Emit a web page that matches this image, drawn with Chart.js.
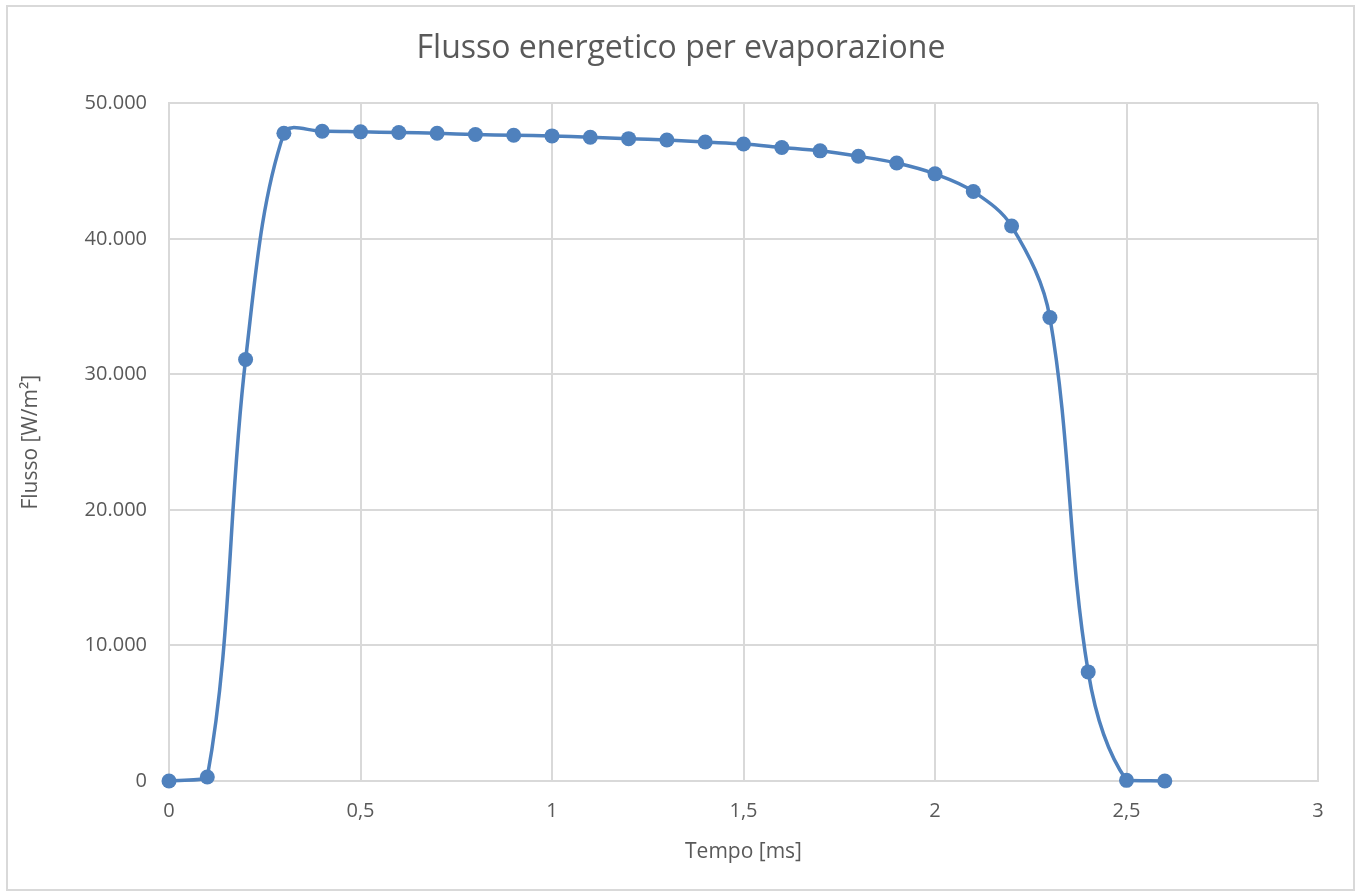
<!DOCTYPE html>
<html>
<head>
<meta charset="utf-8">
<script src="https://cdn.jsdelivr.net/npm/chart.js@4/dist/chart.umd.min.js"></script>
<style>
  html, body { margin: 0; padding: 0; background: #fff; }
  #wrap { position: relative; width: 1362px; height: 894px; }
</style>
</head>
<body>
<div id="wrap"><canvas id="chart"></canvas></div>
<script>
// tempo [ms] e flusso [W/m2]
const tempo  = [0, 0.1, 0.2, 0.3, 0.4, 0.5, 0.6, 0.7, 0.8, 0.9, 1.0, 1.1, 1.2, 1.3,
                1.4, 1.5, 1.6, 1.7, 1.8, 1.9, 2.0, 2.1, 2.2, 2.3, 2.4, 2.5, 2.6];
const flusso = [0, 300, 31100, 47800, 47950, 47900, 47850, 47800, 47700, 47650, 47600, 47500, 47400, 47300,
                47150, 47000, 46750, 46500, 46100, 45600, 44800, 43500, 40950, 34200, 8050, 50, 0];

const titolo   = 'Flusso energetico per evaporazione';
const titoloX  = 'Tempo [ms]';
const titoloY  = 'Flusso [W/m²]';

const blu    = '#4f81bd';
const griglia = '#d9d9d9';
const testo  = '#595959';
const font   = '"Open Sans", "Noto Sans", sans-serif';

const punti = tempo.map((t, i) => ({ x: t, y: flusso[i] }));

// cornice esterna del grafico
const cornice = {
    id: 'cornice',
    beforeDraw(chart) {
        const ctx = chart.ctx;
        ctx.save();
        ctx.strokeStyle = griglia;
        ctx.lineWidth = 2;
        ctx.strokeRect(7, 6, 1347, 884);
        ctx.restore();
    }
};

const migliaia = v => String(Math.round(v)).replace(/\B(?=(\d{3})+(?!\d))/g, '.');

const ctx = document.getElementById('chart').getContext('2d');
const chart = new Chart(ctx, {
    type: 'line',
    data: {
        datasets: [{
            label: titoloY,
            data: punti,
            borderColor: blu,
            backgroundColor: blu,
            borderWidth: 3.5,
            pointRadius: 7.5,
            pointHoverRadius: 7.5,
            pointBorderWidth: 0,
            tension: 0.35,
            clip: false,
            fill: false
        }]
    },
    options: {
        responsive: true,
        maintainAspectRatio: false,
        animation: false,
        layout: { padding: 0 },
        plugins: {
            legend: { display: false },
            tooltip: { enabled: false },
            title: {
                display: true,
                text: titolo,
                color: testo,
                font: { family: font, size: 32, weight: 'normal' },
                padding: { top: 30, bottom: 35 }
            }
        },
        scales: {
            x: {
                type: 'linear',
                min: 0,
                max: 3,
                ticks: {
                    stepSize: 0.5,
                    color: testo,
                    padding: 18,
                    font: { family: font, size: 20 },
                    callback: v => String(v).replace('.', ',')
                },
                grid: { color: griglia, lineWidth: 2, drawTicks: false },
                border: { color: griglia, width: 2 },
                title: {
                    display: true,
                    text: titoloX,
                    color: testo,
                    font: { family: font, size: 21 },
                    padding: { bottom: 29 }
                },
                afterFit(scale) { scale.height = 113; }
            },
            y: {
                min: 0,
                max: 50000,
                ticks: {
                    stepSize: 10000,
                    color: testo,
                    padding: 22,
                    font: { family: font, size: 20 },
                    callback: v => migliaia(v)
                },
                grid: { color: griglia, lineWidth: 2, drawTicks: false },
                border: { color: griglia, width: 2 },
                title: {
                    display: true,
                    text: titoloY,
                    color: testo,
                    font: { family: font, size: 21 },
                    padding: { top: 18 }
                },
                afterFit(scale) { scale.width = 169; }
            },
            // spazio vuoto a destra dell'area del grafico
            margine: {
                type: 'linear',
                position: 'right',
                display: true,
                ticks: { display: false },
                grid: { display: false },
                border: { display: false },
                afterFit(scale) { scale.width = 44; }
            }
        }
    },
    plugins: [cornice]
});
</script>
</body>
</html>
